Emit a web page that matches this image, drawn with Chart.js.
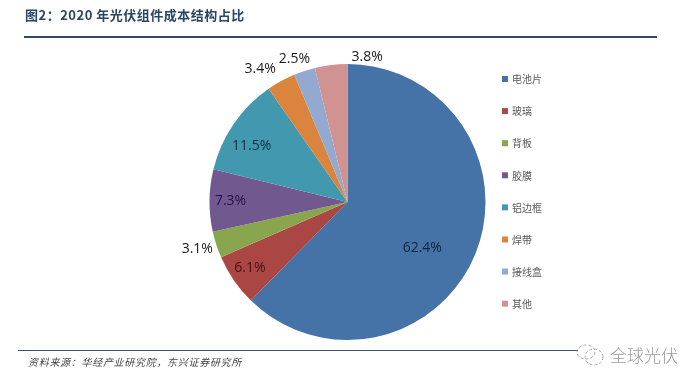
<!DOCTYPE html>
<html><head><meta charset="utf-8">
<script src="https://cdn.jsdelivr.net/npm/chart.js@4"></script>
<style>
html,body{margin:0;padding:0;background:#fff;width:700px;height:384px;overflow:hidden}
body{position:relative;font-family:"Noto Sans CJK SC",sans-serif}
canvas{position:absolute;left:0;top:0}
.a{position:absolute;white-space:nowrap}
#title{left:25px;top:6px;font-size:13px;font-weight:700;color:#2a4663;letter-spacing:.5px;line-height:18px}
#r1{left:24px;top:36px;width:633px;height:2px;background:#2f4a66}
#r2{left:18px;top:349.5px;width:560px;height:1.5px;background:#3a5068}
#src{left:28px;top:355px;font-size:10px;font-style:italic;color:#444;line-height:14px;letter-spacing:.7px}
#wm{left:610px;top:343px;font-size:17px;font-weight:300;color:#9a9a9a;line-height:24px}
#ic{left:574px;top:343px}
</style></head><body>
<canvas id="c" width="700" height="384"></canvas>
<div class="a" id="title">图2：2020 年光伏组件成本结构占比</div>
<div class="a" id="r1"></div>
<div class="a" id="r2"></div>
<div class="a" id="src">资料来源：华经产业研究院，东兴证券研究所</div>
<svg class="a" id="ic" width="36" height="26" viewBox="0 0 36 26"><g fill="none" stroke="#a8a8a8" stroke-width="1" stroke-dasharray="3 2"><ellipse cx="12" cy="9" rx="9" ry="7"/><ellipse cx="20" cy="14" rx="9" ry="8"/></g></svg>
<div class="a" id="wm">全球光伏</div>
<script>
const categories = ["电池片","玻璃","背板","胶膜","铝边框","焊带","接线盒","其他"];
const shares = [62.4,6.1,3.1,7.3,11.5,3.4,2.5,3.8];
const colors = ["#4572A7","#AA4643","#89A54E","#71588F","#4198AF","#DB843D","#93A9CF","#D19392"];
const labelShift = [[-53,-6],[16,-12],[-19,4],[21,1],[18,22],[-21,-12],[-10,-12],[36,-8]];
const labelInk = ["#12253f","#4a0f10","#1a1a1a","#24124a","#0f3346","#1a1a1a","#1a1a1a","#1a1a1a"];

const sideLabels = {
  id:"sideLabels",
  afterDraw(chart){
    const {ctx} = chart;
    const arcs = chart.getDatasetMeta(0).data;
    ctx.save();
    ctx.textBaseline="middle";
    arcs.forEach((a,i)=>{
      const mid=(a.startAngle+a.endAngle)/2;
      ctx.textAlign="center";
      ctx.font='14px "Open Sans","Noto Sans",sans-serif';
      ctx.fillStyle=labelInk[i];
      ctx.fillText(shares[i].toFixed(1)+"%",
        a.x+Math.cos(mid)*a.outerRadius+labelShift[i][0],
        a.y+Math.sin(mid)*a.outerRadius+labelShift[i][1]);
    });
    const x0=chart.chartArea.right+16.5, y0=79, gap=32.1;
    categories.forEach((t,i)=>{
      const y=y0+i*gap;
      ctx.fillStyle=colors[i];
      ctx.fillRect(x0,y-3,6,6);
      ctx.fillStyle="#595959";
      ctx.textAlign="left";
      ctx.font='10px "Noto Sans CJK SC",sans-serif';
      ctx.fillText(t,x0+10,y+0.5);
    });
    ctx.restore();
  }
};

new Chart(document.getElementById("c"),{
  type:"pie",
  data:{labels:categories,datasets:[{data:shares,backgroundColor:colors,borderWidth:0}]},
  options:{
    responsive:false,animation:false,
    layout:{padding:{left:209.5,right:214.5,top:64,bottom:44}},
    plugins:{legend:{display:false},tooltip:{enabled:false}}
  },
  plugins:[sideLabels]
});
</script>
</body></html>
